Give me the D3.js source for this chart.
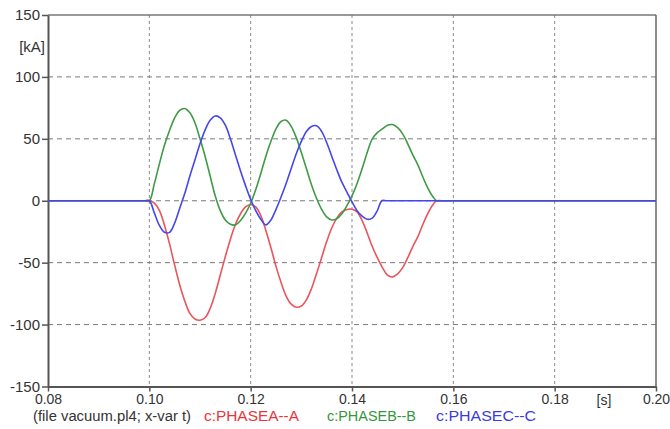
<!DOCTYPE html>
<html>
<head>
<meta charset="utf-8">
<script src="https://cdn.jsdelivr.net/npm/d3@7"></script>
<style>
  html, body { margin: 0; padding: 0; background: #fff; }
  svg { display: block; }
  text { font-family: "Liberation Sans", Arial, sans-serif; fill: #333; }
</style>
</head>
<body>
<svg id="chart" width="670" height="429"></svg>
<script>
// ---- data ----
const xTicks = [0.08, 0.10, 0.12, 0.14, 0.16, 0.18, 0.20];
const xTickLabels = ["0.08", "0.10", "0.12", "0.14", "0.16", "0.18", "0.20"];
const yTicks = [-150, -100, -50, 0, 50, 100, 150];
const yTickLabels = ["-150", "-100", "-50", "0", "50", "100", "150"];

const tA = [0.08, 0.099, 0.100, 0.101, 0.102, 0.103, 0.104, 0.105, 0.106, 0.107, 0.108, 0.109, 0.110, 0.111, 0.112, 0.113, 0.114, 0.115, 0.116, 0.117, 0.118, 0.119, 0.120, 0.121, 0.122, 0.123, 0.124, 0.125, 0.126, 0.127, 0.128, 0.129, 0.130, 0.131, 0.132, 0.133, 0.134, 0.135, 0.136, 0.137, 0.138, 0.139, 0.140, 0.141, 0.142, 0.143, 0.144, 0.145, 0.146, 0.147, 0.148, 0.149, 0.150, 0.151, 0.152, 0.153, 0.154, 0.155, 0.156, 0.1567, 0.158, 0.20];
const vA = [0, 0, 0, -2, -8, -20, -35, -52, -68, -81, -91, -95.5, -96.5, -94.5, -87, -75, -60, -45, -31, -19, -10.5, -5, -3, -5, -12, -24, -38, -53, -66, -77, -83.5, -86, -85, -80, -71, -59, -46, -33, -22, -14, -9, -7, -6.8, -9, -16, -26, -37, -46, -54, -60, -61.5, -59, -54, -46, -37, -29, -19, -10, -3, 0, 0, 0];

const tB = [0.08, 0.099, 0.100, 0.101, 0.102, 0.103, 0.104, 0.105, 0.106, 0.107, 0.108, 0.109, 0.110, 0.111, 0.112, 0.113, 0.114, 0.115, 0.116, 0.117, 0.118, 0.119, 0.120, 0.121, 0.122, 0.123, 0.124, 0.125, 0.126, 0.127, 0.128, 0.129, 0.130, 0.131, 0.132, 0.133, 0.134, 0.135, 0.136, 0.137, 0.138, 0.139, 0.140, 0.141, 0.142, 0.143, 0.144, 0.145, 0.146, 0.147, 0.148, 0.149, 0.150, 0.151, 0.152, 0.153, 0.154, 0.155, 0.156, 0.1567, 0.158, 0.20];
const vB = [0, 0, 0, 14, 30, 45, 57, 67, 73, 74.5, 71, 63, 50, 36, 20, 4, -8, -15.5, -19, -19.5, -16, -10, -2, 9, 22, 36, 48, 58, 64, 65, 60, 51, 39, 26, 13, 2, -7, -13, -15.5, -14.5, -10.5, -4, 4, 14, 26, 39, 50, 55, 58, 61, 61.5, 59, 54, 46, 37, 29, 19, 10, 3, 0, 0, 0];

const tC = [0.08, 0.099, 0.100, 0.101, 0.102, 0.103, 0.104, 0.105, 0.106, 0.107, 0.108, 0.109, 0.110, 0.111, 0.112, 0.113, 0.114, 0.115, 0.116, 0.117, 0.118, 0.119, 0.120, 0.121, 0.122, 0.123, 0.124, 0.125, 0.126, 0.127, 0.128, 0.129, 0.130, 0.131, 0.132, 0.133, 0.134, 0.135, 0.136, 0.137, 0.138, 0.139, 0.140, 0.141, 0.142, 0.143, 0.144, 0.145, 0.1459, 0.147, 0.20];
const vC = [0, 0, 0, -10, -20, -25.5, -25.5, -18, -6, 6, 20, 33, 46, 57, 65, 68.5, 67, 61, 50, 37, 24, 12, 1, -8, -15, -19.5, -15.5, -7, 3, 14, 26, 38, 48, 56, 60, 60.5, 56, 47, 36, 25, 15, 7, -1, -8, -12.5, -15, -14, -8, 0, 0, 0];

const seriesNames = ["c:PHASEA--A", "c:PHASEB--B", "c:PHASEC--C"];
const lineColors = ["#e8555a", "#3f9a45", "#4646ee"];
const textColors = ["#e8343c", "#34963c", "#3a3ae0"];

// ---- layout ----
const svg = d3.select("#chart");
const plotL = 48, plotR = 656, plotT = 15, plotB = 386.5;

const x = d3.scaleLinear().domain([0.08, 0.20]).range([plotL, plotR]);
const y = d3.scaleLinear().domain([-150, 150]).range([plotB, plotT]);

// grid
const grid = svg.append("g");
grid.selectAll("line.vg").data(xTicks.slice(1, -1)).enter().append("line")
  .attr("x1", d => x(d)).attr("x2", d => x(d))
  .attr("y1", plotT).attr("y2", plotB)
  .attr("stroke", "#8a8a8a").attr("stroke-width", 1).attr("stroke-dasharray", "3,3");
grid.selectAll("line.hg").data(yTicks.slice(1, -1)).enter().append("line")
  .attr("x1", plotL).attr("x2", plotR)
  .attr("y1", d => y(d)).attr("y2", d => y(d))
  .attr("stroke", "#7a7a7a").attr("stroke-width", 1).attr("stroke-dasharray", "5,4");

// frame top/right
svg.append("line").attr("x1", plotL).attr("x2", plotR).attr("y1", plotT).attr("y2", plotT)
  .attr("stroke", "#777").attr("stroke-width", 1.5);
svg.append("line").attr("x1", plotR).attr("x2", plotR).attr("y1", plotT).attr("y2", plotB)
  .attr("stroke", "#666").attr("stroke-width", 1.5);

// axes
const xAxis = d3.axisBottom(x).tickValues(xTicks).tickFormat((d, i) => xTickLabels[i])
  .tickSize(5).tickSizeOuter(0).tickPadding(3);
const gx = svg.append("g").attr("transform", `translate(0,${plotB})`).call(xAxis);
gx.selectAll("text").attr("font-size", 14).attr("fill", "#333")
  .attr("font-family", "Liberation Sans, Arial, sans-serif");
gx.selectAll("line").attr("stroke", "#555").attr("stroke-width", 1.5);
gx.select(".domain").attr("stroke", "#555").attr("stroke-width", 2);

const yAxis = d3.axisLeft(y).tickValues(yTicks).tickFormat((d, i) => yTickLabels[i])
  .tickSize(6).tickSizeOuter(0).tickPadding(2);
const gy = svg.append("g").attr("transform", `translate(${plotL},0)`).call(yAxis);
gy.selectAll("text").attr("font-size", 15).attr("fill", "#333")
  .attr("font-family", "Liberation Sans, Arial, sans-serif");
gy.selectAll("line").attr("stroke", "#555").attr("stroke-width", 1.5);
gy.select(".domain").attr("stroke", "#555").attr("stroke-width", 2);

// unit labels
svg.append("text").attr("x", 45).attr("y", 52).attr("text-anchor", "end")
  .attr("font-size", 15).text("[kA]");
svg.append("text").attr("x", 604).attr("y", 404.5).attr("text-anchor", "middle")
  .attr("font-size", 14).text("[s]");

// curves
svg.append("clipPath").attr("id", "clip").append("rect")
  .attr("x", plotL).attr("y", plotT).attr("width", plotR - plotL).attr("height", plotB - plotT);
const line = d3.line().x(d => x(d[0])).y(d => y(d[1])).curve(d3.curveCatmullRom.alpha(0.5));
const series = [d3.zip(tA, vA), d3.zip(tB, vB), d3.zip(tC, vC)];
const gl = svg.append("g").attr("clip-path", "url(#clip)");
series.forEach((s, i) => {
  gl.append("path").datum(s).attr("d", line)
    .attr("fill", "none").attr("stroke", lineColors[i]).attr("stroke-width", 1.6)
    .attr("stroke-linejoin", "round");
});

// footer
svg.append("text").attr("x", 33).attr("y", 420.5).attr("font-size", 14)
  .attr("textLength", 158).attr("lengthAdjust", "spacingAndGlyphs")
  .text("(file vacuum.pl4; x-var t)");
const footX = [204, 327, 436];
const footW = [95, 89, 100];
seriesNames.forEach((n, i) => {
  svg.append("text").attr("x", footX[i]).attr("y", 420.5).attr("font-size", 14)
    .attr("textLength", footW[i]).attr("lengthAdjust", "spacingAndGlyphs")
    .style("fill", textColors[i]).text(n);
});
</script>
</body>
</html>
